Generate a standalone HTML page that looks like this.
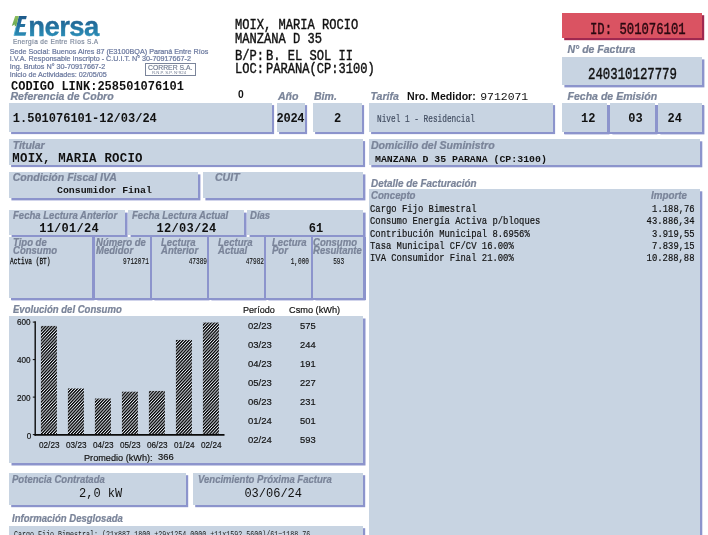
<!DOCTYPE html>
<html><head><meta charset="utf-8"><title>Factura Enersa</title>
<style>
html,body{margin:0;padding:0;background:#fff;}
body{width:708px;height:535px;position:relative;overflow:hidden;font-family:"Liberation Sans",sans-serif;color:#111;}
#pg{position:absolute;left:0;top:0;width:708px;height:535px;overflow:hidden;will-change:transform;}
.b{position:absolute;}
.t{position:absolute;white-space:pre;line-height:1;}
.s{font-family:"Liberation Sans",sans-serif;}
.sb,.sbd{font-family:"Liberation Sans",sans-serif;font-weight:bold;}
.bi{font-family:"Liberation Sans",sans-serif;font-weight:bold;font-style:italic;-webkit-text-stroke:0.24px currentColor;}
.m,.c{font-family:"Liberation Mono",monospace;}
.mb,.cb{font-family:"Liberation Mono",monospace;font-weight:bold;}
</style></head><body>
<div id="pg">
<div class="b" style="left:562px;top:13.2px;width:139.60px;height:25.30px;background:#da5362;box-shadow:2.2px 2.2px 0 #a02850;"></div>
<div class="b" style="left:562px;top:57.4px;width:139.50px;height:27.80px;background:#c8d4e2;box-shadow:2.4px 2.4px 0 #8c94cc;"></div>
<div class="b" style="left:9px;top:103px;width:262.80px;height:28.80px;background:#c8d4e2;box-shadow:2.1px 2.1px 0 #8c94cc;"></div>
<div class="b" style="left:277.2px;top:103px;width:27.80px;height:28.80px;background:#c8d4e2;box-shadow:2.1px 2.1px 0 #8c94cc;"></div>
<div class="b" style="left:313px;top:103px;width:48.80px;height:28.80px;background:#c8d4e2;box-shadow:2.1px 2.1px 0 #8c94cc;"></div>
<div class="b" style="left:369.1px;top:103px;width:183.65px;height:28.80px;background:#c8d4e2;box-shadow:2.1px 2.1px 0 #8c94cc;"></div>
<div class="b" style="left:564.4px;top:105.4px;width:139.7px;height:28.6px;background:#8c94cc"></div>
<div class="b" style="left:562px;top:103px;width:45.00px;height:28.60px;background:#c8d4e2;box-shadow:2.4px 2.4px 0 #8c94cc;"></div>
<div class="b" style="left:609.9px;top:103px;width:45.00px;height:28.60px;background:#c8d4e2;box-shadow:2.4px 2.4px 0 #8c94cc;"></div>
<div class="b" style="left:657.7px;top:103px;width:44.00px;height:28.60px;background:#c8d4e2;box-shadow:2.4px 2.4px 0 #8c94cc;"></div>
<div class="b" style="left:9px;top:138.9px;width:354.20px;height:26.30px;background:#c8d4e2;box-shadow:2.1px 2.1px 0 #8c94cc;"></div>
<div class="b" style="left:369.1px;top:138.9px;width:331.20px;height:26.30px;background:#c8d4e2;box-shadow:2.3px 2.3px 0 #8c94cc;"></div>
<div class="b" style="left:9px;top:172px;width:189.00px;height:26.10px;background:#c8d4e2;box-shadow:2.4px 2.4px 0 #8c94cc;"></div>
<div class="b" style="left:203px;top:172px;width:160.20px;height:26.10px;background:#c8d4e2;box-shadow:2.4px 2.4px 0 #8c94cc;"></div>
<div class="b" style="left:369.1px;top:189.3px;width:331.20px;height:350.70px;background:#c8d4e2;box-shadow:2.3px 2.3px 0 #8c94cc;"></div>
<div class="b" style="left:9px;top:210.1px;width:116.20px;height:24.60px;background:#c8d4e2;box-shadow:2.6px 2.6px 0 #8c94cc;"></div>
<div class="b" style="left:127.8px;top:210.1px;width:116.40px;height:24.60px;background:#c8d4e2;box-shadow:2.6px 2.6px 0 #8c94cc;"></div>
<div class="b" style="left:246.8px;top:210.1px;width:116.40px;height:24.60px;background:#c8d4e2;box-shadow:2.6px 2.6px 0 #8c94cc;"></div>
<div class="b" style="left:11.3px;top:236.5px;width:354.3px;height:63.7px;background:#8c94cc"></div>
<div class="b" style="left:9px;top:237.0px;width:83.30px;height:60.80px;background:#c8d4e2;box-shadow:2.4px 2.4px 0 #8c94cc;"></div>
<div class="b" style="left:94.7px;top:237.0px;width:55.30px;height:60.80px;background:#c8d4e2;box-shadow:2.4px 2.4px 0 #8c94cc;"></div>
<div class="b" style="left:152.3px;top:237.0px;width:54.40px;height:60.80px;background:#c8d4e2;box-shadow:2.4px 2.4px 0 #8c94cc;"></div>
<div class="b" style="left:209px;top:237.0px;width:54.90px;height:60.80px;background:#c8d4e2;box-shadow:2.4px 2.4px 0 #8c94cc;"></div>
<div class="b" style="left:266.2px;top:237.0px;width:44.70px;height:60.80px;background:#c8d4e2;box-shadow:2.4px 2.4px 0 #8c94cc;"></div>
<div class="b" style="left:313.2px;top:237.0px;width:50.00px;height:60.80px;background:#c8d4e2;box-shadow:2.4px 2.4px 0 #8c94cc;"></div>
<div class="b" style="left:9px;top:315.9px;width:354.10px;height:147.30px;background:#c8d4e2;box-shadow:2.5px 2.5px 0 #8c94cc;"></div>
<div class="b" style="left:9px;top:473.3px;width:176.75px;height:32.00px;background:#c8d4e2;box-shadow:2.2px 2.2px 0 #8c94cc;"></div>
<div class="b" style="left:193.25px;top:473.3px;width:169.75px;height:32.00px;background:#c8d4e2;box-shadow:2.2px 2.2px 0 #8c94cc;"></div>
<div class="b" style="left:9px;top:525.5px;width:354.00px;height:14.50px;background:#c8d4e2;box-shadow:2.2px 2.2px 0 #8c94cc;"></div>
<svg class="t" style="left:0;top:0" width="110" height="42" viewBox="0 0 110 42">
<defs><linearGradient id="g" gradientUnits="userSpaceOnUse" x1="0" y1="15" x2="0" y2="37"><stop offset="0" stop-color="#1d5687"/><stop offset="1" stop-color="#2b8fb8"/></linearGradient>
<linearGradient id="gg" gradientUnits="userSpaceOnUse" x1="0" y1="16" x2="0" y2="33"><stop offset="0" stop-color="#8fbe5e"/><stop offset="1" stop-color="#4f9a4c"/></linearGradient></defs>
<path d="M18.8 15.9 L26.8 15.9 L26.0 19.2 L21.9 19.2 L20.7 24.0 L25.4 24.0 L24.7 27.0 L20.0 27.0 L18.8 32.2 L26.3 32.2 L25.4 35.8 L14.0 35.8 Z" fill="url(#g)"/><path d="M16.0 27.2 L14.0 35.6" stroke="#4fb0d4" stroke-width="0.9" fill="none"/>
<path d="M15.2 16.0 L18.8 16.0 L16.3 26.3 L14.6 26.3 L15.0 24.6 L11.8 25.9 Z" fill="url(#gg)"/>
<text x="28.3" y="35.9" font-family="Liberation Sans" font-weight="bold" font-size="27.5" letter-spacing="-0.62" fill="url(#g)" stroke="url(#g)" stroke-width="0.35">nersa</text>
</svg>
<div class="t s" style="left:12.9px;top:39.10px;font-size:6.5px;color:#8492a8;letter-spacing:0.36px;-webkit-text-stroke:0.2px #808c9f;color:#808c9f">Energía de Entre Ríos S.A</div>
<div class="t s" style="left:9.7px;top:47.51px;font-size:7.2px;color:#6a789e;-webkit-text-stroke:0.22px #6a789e">Sede Social: Buenos Aires 87 (E3100BQA) Paraná Entre Ríos</div>
<div class="t s" style="left:9.7px;top:55.31px;font-size:7.2px;color:#6a789e;-webkit-text-stroke:0.22px #6a789e">I.V.A. Responsable Inscripto - C.U.I.T. N° 30-70917667-2</div>
<div class="t s" style="left:9.7px;top:62.91px;font-size:7.2px;color:#6a789e;-webkit-text-stroke:0.22px #6a789e">Ing. Brutos N° 30-70917667-2</div>
<div class="t s" style="left:9.7px;top:70.51px;font-size:7.2px;color:#6a789e;-webkit-text-stroke:0.22px #6a789e">Inicio de Actividades: 02/05/05</div>
<div class="b" style="left:144.8px;top:63.4px;width:51px;height:13px;border:1px solid #7a849a;box-sizing:border-box"></div>
<div class="t s" style="left:147.8px;top:64.30px;font-size:7.8px;transform:scaleX(0.875);transform-origin:0 0;color:#111;-webkit-text-stroke:0.18px currentColor;color:#6f7a90">CORRER S.A.</div>
<div class="t s" style="left:152px;top:70.96px;font-size:4.3px;color:#6f7a90">R.N.P. S.P. N°924</div>
<div class="t mb" style="left:11.0px;top:80.50px;font-size:12px;">CODIGO LINK:258501076101</div>
<div class="t c" style="left:234.6px;top:17.70px;font-size:15px;transform:scaleX(0.806);transform-origin:0 0;-webkit-text-stroke:0.42px #111">MOIX, MARIA ROCIO</div>
<div class="t c" style="left:234.6px;top:31.50px;font-size:15px;transform:scaleX(0.806);transform-origin:0 0;-webkit-text-stroke:0.42px #111">MANZANA D 35</div>
<div class="t c" style="left:234.6px;top:48.50px;font-size:15px;transform:scaleX(0.806);transform-origin:0 0;-webkit-text-stroke:0.42px #111">B/P:</div>
<div class="t c" style="left:265.8px;top:48.50px;font-size:15px;transform:scaleX(0.806);transform-origin:0 0;-webkit-text-stroke:0.42px #111">B. EL SOL II</div>
<div class="t c" style="left:234.6px;top:62.30px;font-size:15px;transform:scaleX(0.806);transform-origin:0 0;-webkit-text-stroke:0.42px #111">LOC:</div>
<div class="t c" style="left:265.8px;top:62.30px;font-size:15px;transform:scaleX(0.806);transform-origin:0 0;-webkit-text-stroke:0.42px #111">PARANA(CP:3100)</div>
<div class="t c" style="left:589.6px;top:22.79px;font-size:15.8px;transform:scaleX(0.776);transform-origin:0 0;color:#2a0810;-webkit-text-stroke:0.4px #2a0810">ID: 501076101</div>
<div class="t c" style="left:588.2px;top:67.64px;font-size:15.6px;transform:scaleX(0.792);transform-origin:0 0;-webkit-text-stroke:0.4px #111">240310127779</div>
<div class="t bi" style="left:567.5px;top:44.11px;font-size:10.5px;color:#7a8499">N° de Factura</div>
<div class="t bi" style="left:10.5px;top:91.07px;font-size:10.55px;color:#7a8499">Referencia de Cobro</div>
<div class="t bi" style="left:278px;top:91.07px;font-size:10.55px;color:#7a8499">Año</div>
<div class="t bi" style="left:314px;top:91.07px;font-size:10.55px;color:#7a8499">Bim.</div>
<div class="t bi" style="left:370.5px;top:91.07px;font-size:10.55px;color:#7a8499">Tarifa</div>
<div class="t bi" style="left:567.5px;top:91.07px;font-size:10.55px;color:#7a8499">Fecha de Emisión</div>
<div class="t bi" style="left:12.7px;top:140.07px;font-size:10.55px;color:#7a8499">Titular</div>
<div class="t bi" style="left:371px;top:140.37px;font-size:10.55px;color:#7a8499">Domicilio del Suministro</div>
<div class="t bi" style="left:12.7px;top:172.07px;font-size:10.55px;color:#7a8499">Condición Fiscal IVA</div>
<div class="t bi" style="left:215px;top:171.77px;font-size:10.55px;color:#7a8499">CUIT</div>
<div class="t bi" style="left:371px;top:178.07px;font-size:10.55px;transform:scaleX(0.938);transform-origin:0 0;color:#7a8499">Detalle de Facturación</div>
<div class="t bi" style="left:371px;top:189.67px;font-size:10.55px;transform:scaleX(0.915);transform-origin:0 0;color:#7a8499">Concepto</div>
<div class="t bi" style="left:651px;top:189.87px;font-size:10.55px;transform:scaleX(0.93);transform-origin:0 0;color:#7a8499">Importe</div>
<div class="t bi" style="left:12.5px;top:210.27px;font-size:10.55px;transform:scaleX(0.905);transform-origin:0 0;color:#7a8499">Fecha Lectura Anterior</div>
<div class="t bi" style="left:131.5px;top:210.27px;font-size:10.55px;transform:scaleX(0.905);transform-origin:0 0;color:#7a8499">Fecha Lectura Actual</div>
<div class="t bi" style="left:250.2px;top:210.27px;font-size:10.55px;transform:scaleX(0.905);transform-origin:0 0;color:#7a8499">Días</div>
<div class="t bi" style="left:12.5px;top:237.27px;font-size:10.55px;transform:scaleX(0.905);transform-origin:0 0;color:#7a8499">Tipo de</div>
<div class="t bi" style="left:12.5px;top:244.87px;font-size:10.55px;transform:scaleX(0.905);transform-origin:0 0;color:#7a8499">Consumo</div>
<div class="t bi" style="left:96.2px;top:237.27px;font-size:10.55px;transform:scaleX(0.905);transform-origin:0 0;color:#7a8499">Número de</div>
<div class="t bi" style="left:96.2px;top:244.87px;font-size:10.55px;transform:scaleX(0.905);transform-origin:0 0;color:#7a8499">Medidor</div>
<div class="t bi" style="left:160.7px;top:237.27px;font-size:10.55px;transform:scaleX(0.905);transform-origin:0 0;color:#7a8499">Lectura</div>
<div class="t bi" style="left:160.7px;top:244.87px;font-size:10.55px;transform:scaleX(0.905);transform-origin:0 0;color:#7a8499">Anterior</div>
<div class="t bi" style="left:218.2px;top:237.27px;font-size:10.55px;transform:scaleX(0.905);transform-origin:0 0;color:#7a8499">Lectura</div>
<div class="t bi" style="left:218.2px;top:244.87px;font-size:10.55px;transform:scaleX(0.905);transform-origin:0 0;color:#7a8499">Actual</div>
<div class="t bi" style="left:271.5px;top:237.27px;font-size:10.55px;transform:scaleX(0.905);transform-origin:0 0;color:#7a8499">Lectura</div>
<div class="t bi" style="left:271.5px;top:244.87px;font-size:10.55px;transform:scaleX(0.905);transform-origin:0 0;color:#7a8499">Por</div>
<div class="b" style="left:313.25px;top:236.3px;width:49.95px;height:30px;overflow:hidden">
<div class="t bi" style="left:0px;top:0.97px;font-size:10.55px;transform:scaleX(0.905);transform-origin:0 0;color:#7a8499">Consumo</div>
<div class="t bi" style="left:0px;top:8.57px;font-size:10.55px;transform:scaleX(0.905);transform-origin:0 0;color:#7a8499">Resultante</div>
</div>
<div class="t bi" style="left:13px;top:304.07px;font-size:10.55px;transform:scaleX(0.905);transform-origin:0 0;color:#7a8499">Evolución del Consumo</div>
<div class="t bi" style="left:11.7px;top:474.07px;font-size:10.55px;transform:scaleX(0.905);transform-origin:0 0;color:#7a8499">Potencia Contratada</div>
<div class="t bi" style="left:197.5px;top:474.07px;font-size:10.55px;transform:scaleX(0.905);transform-origin:0 0;color:#7a8499">Vencimiento Próxima Factura</div>
<div class="t bi" style="left:11.7px;top:512.57px;font-size:10.55px;transform:scaleX(0.905);transform-origin:0 0;color:#7a8499">Información Desglosada</div>
<div class="t sbd" style="left:237.9px;top:89.58px;font-size:10.3px;">0</div>
<div class="t sbd" style="left:407px;top:91.04px;font-size:10.58px;">Nro. Medidor:</div>
<div class="t m" style="left:480.2px;top:91.22px;font-size:11.45px;">9712071</div>
<div class="t mb" style="left:12.8px;top:112.80px;font-size:12px;">1.501076101-12/03/24</div>
<div class="t mb" style="left:276.6px;top:112.80px;font-size:12px;letter-spacing:-0.3px">2024</div>
<div class="t mb" style="left:333.9px;top:112.80px;font-size:12px;">2</div>
<div class="t c" style="left:376.6px;top:114.78px;font-size:10.2px;transform:scaleX(0.762);transform-origin:0 0;color:#434e62;-webkit-text-stroke:0.2px #434e62">Nivel 1 - Residencial</div>
<div class="t mb" style="left:581.0px;top:112.60px;font-size:12px;">12</div>
<div class="t mb" style="left:628.2px;top:112.60px;font-size:12px;">03</div>
<div class="t mb" style="left:667.5px;top:112.60px;font-size:12px;">24</div>
<div class="t mb" style="left:12.3px;top:152.99px;font-size:12.4px;letter-spacing:0.24px">MOIX, MARIA ROCIO</div>
<div class="t mb" style="left:375px;top:154.81px;font-size:9.9px;">MANZANA D 35 PARANA (CP:3100)</div>
<div class="t mb" style="left:57px;top:185.81px;font-size:9.9px;">Consumidor Final</div>
<div class="t mb" style="left:39.2px;top:222.80px;font-size:12px;letter-spacing:0.26px">11/01/24</div>
<div class="t mb" style="left:156.5px;top:222.80px;font-size:12px;letter-spacing:0.3px">12/03/24</div>
<div class="t mb" style="left:308.8px;top:222.80px;font-size:12px;">61</div>
<div class="t c" style="left:10.3px;top:258.20px;font-size:9px;transform:scaleX(0.68);transform-origin:0 0;-webkit-text-stroke:0.3px #111">Activa (BT)</div>
<div class="t c" style="right:559.6px;top:258.20px;font-size:9px;transform:scaleX(0.68);transform-origin:100% 0;-webkit-text-stroke:0.12px #111">9712071</div>
<div class="t c" style="right:501.0px;top:258.20px;font-size:9px;transform:scaleX(0.68);transform-origin:100% 0;-webkit-text-stroke:0.12px #111">47389</div>
<div class="t c" style="right:444.1px;top:258.20px;font-size:9px;transform:scaleX(0.68);transform-origin:100% 0;-webkit-text-stroke:0.12px #111">47982</div>
<div class="t c" style="right:399.1px;top:258.20px;font-size:9px;transform:scaleX(0.68);transform-origin:100% 0;-webkit-text-stroke:0.12px #111">1,000</div>
<div class="t c" style="right:363.4px;top:258.20px;font-size:9px;transform:scaleX(0.68);transform-origin:100% 0;-webkit-text-stroke:0.12px #111">593</div>
<div class="t c" style="left:370.2px;top:203.96px;font-size:11.4px;transform:scaleX(0.779);transform-origin:0 0;-webkit-text-stroke:0.2px #111">Cargo Fijo Bimestral</div>
<div class="t c" style="right:13.0px;top:203.96px;font-size:11.4px;transform:scaleX(0.779);transform-origin:100% 0;-webkit-text-stroke:0.2px #111">1.188,76</div>
<div class="t c" style="left:370.2px;top:216.28px;font-size:11.4px;transform:scaleX(0.779);transform-origin:0 0;-webkit-text-stroke:0.2px #111">Consumo Energía Activa p/bloques</div>
<div class="t c" style="right:13.0px;top:216.28px;font-size:11.4px;transform:scaleX(0.779);transform-origin:100% 0;-webkit-text-stroke:0.2px #111">43.886,34</div>
<div class="t c" style="left:370.2px;top:228.60px;font-size:11.4px;transform:scaleX(0.779);transform-origin:0 0;-webkit-text-stroke:0.2px #111">Contribución Municipal 8.6956%</div>
<div class="t c" style="right:13.0px;top:228.60px;font-size:11.4px;transform:scaleX(0.779);transform-origin:100% 0;-webkit-text-stroke:0.2px #111">3.919,55</div>
<div class="t c" style="left:370.2px;top:240.92px;font-size:11.4px;transform:scaleX(0.779);transform-origin:0 0;-webkit-text-stroke:0.2px #111">Tasa Municipal CF/CV 16.00%</div>
<div class="t c" style="right:13.0px;top:240.92px;font-size:11.4px;transform:scaleX(0.779);transform-origin:100% 0;-webkit-text-stroke:0.2px #111">7.839,15</div>
<div class="t c" style="left:370.2px;top:253.24px;font-size:11.4px;transform:scaleX(0.779);transform-origin:0 0;-webkit-text-stroke:0.2px #111">IVA Consumidor Final 21.00%</div>
<div class="t c" style="right:13.0px;top:253.24px;font-size:11.4px;transform:scaleX(0.779);transform-origin:100% 0;-webkit-text-stroke:0.2px #111">10.288,88</div>
<svg class="t" style="left:0;top:300px" width="365" height="170" viewBox="0 300 365 170"><defs><pattern id="h" width="2.2" height="2.2" patternUnits="userSpaceOnUse" patternTransform="rotate(-47)"><rect width="2.2" height="2.2" fill="#e4eaf3"/><rect width="2.2" height="1.3" fill="#000"/></pattern></defs><rect x="40.9" y="325.93" width="16" height="108.67" fill="url(#h)"/><rect x="67.9" y="388.48" width="16" height="46.12" fill="url(#h)"/><rect x="94.9" y="398.50" width="16" height="36.10" fill="url(#h)"/><rect x="121.9" y="391.70" width="16" height="42.90" fill="url(#h)"/><rect x="148.9" y="390.94" width="16" height="43.66" fill="url(#h)"/><rect x="175.9" y="339.91" width="16" height="94.69" fill="url(#h)"/><rect x="202.9" y="322.52" width="16" height="112.08" fill="url(#h)"/><path d="M35.2 321.3 V435.70000000000005" stroke="#0a0a0a" stroke-width="1.4" fill="none"/><path d="M34.5 434.90000000000003 H224.5" stroke="#0a0a0a" stroke-width="1.8" fill="none"/><path d="M32.8 434.60 H35" stroke="#0a0a0a" stroke-width="1"/><path d="M32.8 397.10 H35" stroke="#0a0a0a" stroke-width="1"/><path d="M32.8 359.60 H35" stroke="#0a0a0a" stroke-width="1"/><path d="M32.8 322.10 H35" stroke="#0a0a0a" stroke-width="1"/></svg>
<div class="t s" style="right:677.2px;top:430.84px;font-size:9.4px;transform:scaleX(0.87);transform-origin:100% 0;color:#111;-webkit-text-stroke:0.18px currentColor;">0</div>
<div class="t s" style="right:677.2px;top:393.04px;font-size:9.4px;transform:scaleX(0.87);transform-origin:100% 0;color:#111;-webkit-text-stroke:0.18px currentColor;">200</div>
<div class="t s" style="right:677.2px;top:355.24px;font-size:9.4px;transform:scaleX(0.87);transform-origin:100% 0;color:#111;-webkit-text-stroke:0.18px currentColor;">400</div>
<div class="t s" style="right:677.2px;top:317.44px;font-size:9.4px;transform:scaleX(0.87);transform-origin:100% 0;color:#111;-webkit-text-stroke:0.18px currentColor;">600</div>
<div class="t s" style="left:38.6px;top:440.34px;font-size:9.4px;transform:scaleX(0.875);transform-origin:0 0;color:#111;-webkit-text-stroke:0.18px currentColor;">02/23</div>
<div class="t s" style="left:65.6px;top:440.34px;font-size:9.4px;transform:scaleX(0.875);transform-origin:0 0;color:#111;-webkit-text-stroke:0.18px currentColor;">03/23</div>
<div class="t s" style="left:92.6px;top:440.34px;font-size:9.4px;transform:scaleX(0.875);transform-origin:0 0;color:#111;-webkit-text-stroke:0.18px currentColor;">04/23</div>
<div class="t s" style="left:119.6px;top:440.34px;font-size:9.4px;transform:scaleX(0.875);transform-origin:0 0;color:#111;-webkit-text-stroke:0.18px currentColor;">05/23</div>
<div class="t s" style="left:146.6px;top:440.34px;font-size:9.4px;transform:scaleX(0.875);transform-origin:0 0;color:#111;-webkit-text-stroke:0.18px currentColor;">06/23</div>
<div class="t s" style="left:173.6px;top:440.34px;font-size:9.4px;transform:scaleX(0.875);transform-origin:0 0;color:#111;-webkit-text-stroke:0.18px currentColor;">01/24</div>
<div class="t s" style="left:200.6px;top:440.34px;font-size:9.4px;transform:scaleX(0.875);transform-origin:0 0;color:#111;-webkit-text-stroke:0.18px currentColor;">02/24</div>
<div class="t s" style="left:84.3px;top:453.00px;font-size:9.8px;transform:scaleX(0.933);transform-origin:0 0;color:#111;-webkit-text-stroke:0.18px currentColor;">Promedio (kWh):</div>
<div class="t s" style="left:158px;top:452.02px;font-size:9.9px;transform:scaleX(0.95);transform-origin:0 0;color:#111;-webkit-text-stroke:0.18px currentColor;">366</div>
<div class="t s" style="left:243.2px;top:304.89px;font-size:9.7px;transform:scaleX(0.937);transform-origin:0 0;color:#111;-webkit-text-stroke:0.18px currentColor;">Período</div>
<div class="t s" style="left:288.6px;top:304.89px;font-size:9.7px;transform:scaleX(0.95);transform-origin:0 0;color:#111;-webkit-text-stroke:0.18px currentColor;">Csmo (kWh)</div>
<div class="t s" style="left:247.5px;top:320.92px;font-size:9.9px;transform:scaleX(0.96);transform-origin:0 0;color:#111;-webkit-text-stroke:0.18px currentColor;">02/23</div>
<div class="t s" style="left:300.0px;top:320.92px;font-size:9.9px;transform:scaleX(0.945);transform-origin:0 0;color:#111;-webkit-text-stroke:0.18px currentColor;">575</div>
<div class="t s" style="left:247.5px;top:339.85px;font-size:9.9px;transform:scaleX(0.96);transform-origin:0 0;color:#111;-webkit-text-stroke:0.18px currentColor;">03/23</div>
<div class="t s" style="left:300.0px;top:339.85px;font-size:9.9px;transform:scaleX(0.945);transform-origin:0 0;color:#111;-webkit-text-stroke:0.18px currentColor;">244</div>
<div class="t s" style="left:247.5px;top:358.78px;font-size:9.9px;transform:scaleX(0.96);transform-origin:0 0;color:#111;-webkit-text-stroke:0.18px currentColor;">04/23</div>
<div class="t s" style="left:300.0px;top:358.78px;font-size:9.9px;transform:scaleX(0.945);transform-origin:0 0;color:#111;-webkit-text-stroke:0.18px currentColor;">191</div>
<div class="t s" style="left:247.5px;top:377.71px;font-size:9.9px;transform:scaleX(0.96);transform-origin:0 0;color:#111;-webkit-text-stroke:0.18px currentColor;">05/23</div>
<div class="t s" style="left:300.0px;top:377.71px;font-size:9.9px;transform:scaleX(0.945);transform-origin:0 0;color:#111;-webkit-text-stroke:0.18px currentColor;">227</div>
<div class="t s" style="left:247.5px;top:396.64px;font-size:9.9px;transform:scaleX(0.96);transform-origin:0 0;color:#111;-webkit-text-stroke:0.18px currentColor;">06/23</div>
<div class="t s" style="left:300.0px;top:396.64px;font-size:9.9px;transform:scaleX(0.945);transform-origin:0 0;color:#111;-webkit-text-stroke:0.18px currentColor;">231</div>
<div class="t s" style="left:247.5px;top:415.57px;font-size:9.9px;transform:scaleX(0.96);transform-origin:0 0;color:#111;-webkit-text-stroke:0.18px currentColor;">01/24</div>
<div class="t s" style="left:300.0px;top:415.57px;font-size:9.9px;transform:scaleX(0.945);transform-origin:0 0;color:#111;-webkit-text-stroke:0.18px currentColor;">501</div>
<div class="t s" style="left:247.5px;top:434.50px;font-size:9.9px;transform:scaleX(0.96);transform-origin:0 0;color:#111;-webkit-text-stroke:0.18px currentColor;">02/24</div>
<div class="t s" style="left:300.0px;top:434.50px;font-size:9.9px;transform:scaleX(0.945);transform-origin:0 0;color:#111;-webkit-text-stroke:0.18px currentColor;">593</div>
<div class="t m" style="left:79.0px;top:488.00px;font-size:12px;">2,0 kW</div>
<div class="t m" style="left:244.4px;top:488.00px;font-size:12px;">03/06/24</div>
<div class="t c" style="left:13.6px;top:531.11px;font-size:8.2px;transform:scaleX(0.815);transform-origin:0 0;color:#222">Cargo Fijo Bimestral: (21x887.1800 +29x1254.0000 +11x1592.5600)/61=1188.76</div>
</div>
</body></html>
